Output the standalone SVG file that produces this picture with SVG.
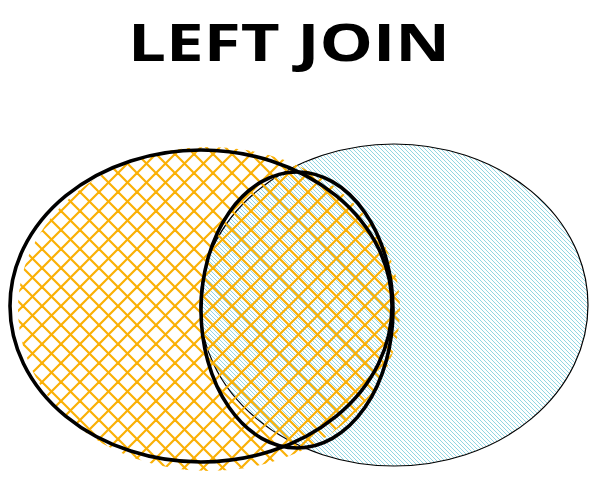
<svg xmlns="http://www.w3.org/2000/svg" width="597" height="482" viewBox="0 0 597 482">
  <style>
    .title { font-family: "Open Sans", "Liberation Sans", sans-serif; font-weight: 700; font-size: 52px; fill: #000; }
    .bold { fill: none; stroke: #000; stroke-width: 3.6; }
    .thin { fill: none; stroke: #000; stroke-width: 1.2; }
    .bl { stroke: #86d1df; stroke-width: 0.9; }
    .or { stroke: #fab005; stroke-width: 2.2; }
  </style>
  <defs>
    <pattern id="blueHatch" patternUnits="userSpaceOnUse" width="4" height="4">
      <line class="bl" x1="0" y1="0" x2="4" y2="4"/>
      <line class="bl" x1="-1" y1="3" x2="1" y2="5"/>
      <line class="bl" x1="3" y1="-1" x2="5" y2="1"/>
    </pattern>
    <pattern id="orangeHatch" patternUnits="userSpaceOnUse" width="19" height="19" x="4" y="2">
      <line class="or" x1="0" y1="0" x2="19" y2="19"/>
      <line class="or" x1="-19" y1="0" x2="19" y2="38"/>
      <line class="or" x1="0" y1="-19" x2="38" y2="19"/>
      <line class="or" x1="0" y1="19" x2="19" y2="0"/>
      <line class="or" x1="-19" y1="19" x2="19" y2="-19"/>
      <line class="or" x1="0" y1="38" x2="38" y2="0"/>
    </pattern>
  </defs>
  <rect width="597" height="482" fill="#ffffff"/>
  <text class="title" x="128" y="61" textLength="322" lengthAdjust="spacingAndGlyphs">LEFT JOIN</text>

  <g id="right-table">
    <ellipse cx="394" cy="305" rx="194" ry="161" fill="url(#blueHatch)"/>
    <ellipse cx="394" cy="305" rx="194" ry="161" class="thin"/>
  </g>
  <g id="left-table">
    <ellipse cx="209" cy="309" rx="191" ry="162" fill="url(#orangeHatch)"/>
    <ellipse cx="201" cy="306" rx="191" ry="156" class="bold"/>
  </g>
  <g id="intersection">
    <ellipse cx="297" cy="310" rx="96" ry="138" class="bold"/>
  </g>
  <g id="connectors"></g>
</svg>
